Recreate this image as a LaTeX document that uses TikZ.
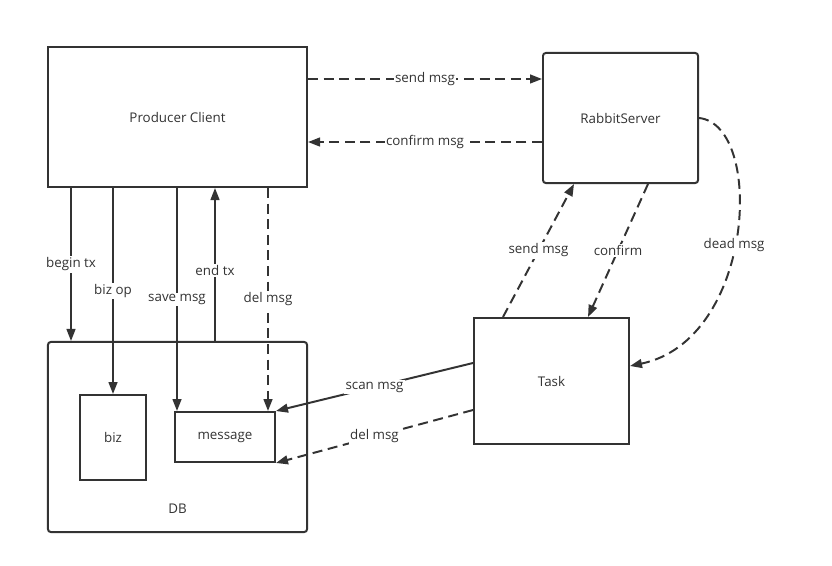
\documentclass[tikz,border=0pt]{standalone}
\usepackage{fontspec}
\setmainfont{Open Sans}
\usepackage{tikz}
\usetikzlibrary{arrows.meta}

\definecolor{linegray}{HTML}{333333}
\tikzset{
  box/.style={rectangle, draw=linegray, line width=1.4pt, fill=white, text centered},
  conn/.style={line width=1.4pt, draw=linegray, -{Triangle[length=3mm,width=2.2mm]}},
  plain/.style={line width=1.4pt, draw=linegray},
  dashline/.style={dash pattern=on 2.5mm off 1.4mm},
  lbl/.style={fill=white, inner sep=1pt, text=linegray}
}

\begin{document}
\begin{tikzpicture}[x=0.025cm, y=-0.025cm, font=\fontsize{9.5}{11}\selectfont, text=linegray]
\useasboundingbox (0,0) rectangle (832,565);

\node [box, minimum width=6.475cm, minimum height=3.5cm] (producer) at (177.5,117) {Producer Client};
\node [box, rounded corners=2pt, minimum width=3.875cm, minimum height=3.25cm] (rabbit) at (620.5,118) {RabbitServer};
\node [box, rounded corners=2pt, minimum width=6.475cm, minimum height=4.75cm, label={[anchor=center, yshift=0.6cm]south:DB}] (db) at (177.5,437) {};
\node [box, minimum width=1.65cm, minimum height=2.125cm] (biz) at (113,437.5) {biz};
\node [box, minimum width=2.5cm, minimum height=1.25cm] (message) at (225,437) {message};
\node [box, minimum width=3.875cm, minimum height=3.15cm] (task) at (551.5,381) {Task};

% producer <-> rabbit
\draw [conn, dashline] ([yshift=0.95cm]producer.east) -- ([yshift=0.95cm]producer.east -| rabbit.west) node [pos=.5, lbl] {send msg};
\draw [conn, dashline] ([yshift=-0.6cm]rabbit.west) -- ([yshift=-0.6cm]rabbit.west -| producer.east) node [pos=.5, lbl] {confirm msg};

% producer <-> db
\draw [conn] (producer.south -| 71,0) -- (db.north -| 71,0) node [pos=.5, lbl] {begin tx};
\draw [conn] (producer.south -| biz.north) -- (biz.north) node [pos=.5, lbl] {biz op};
\draw [conn] (producer.south -| 177,0) -- (message.north -| 177,0) node [pos=.5, lbl] {save msg};
\draw [conn] (db.north -| 215,0) -- (producer.south -| 215,0) node [pos=.46, lbl] {end tx};
\draw [conn, dashline] (producer.south -| 268,0) -- (message.north -| 268,0) node [pos=.5, lbl] {del msg};

% task <-> message
\draw [conn] ([yshift=0.45cm]task.west) -- (message.north east) node [pos=.5, lbl] {scan msg};
\draw [conn, dashline] ([yshift=-0.725cm]task.west) -- (message.south east) node [pos=.5, lbl] {del msg};

% task <-> rabbit
\draw [conn, dashline] ([xshift=-1.2125cm]task.north) -- ([xshift=-1.1625cm]rabbit.south) node [pos=.5, lbl] {send msg};
\draw [conn, dashline] ([xshift=0.6875cm]rabbit.south) -- ([xshift=0.9125cm]task.north) node [pos=.5, lbl] {confirm};
\draw [conn, dashline] (rabbit.east) .. controls (765,125) and (755,340) .. ([yshift=0.375cm]task.east) node [pos=.53, lbl] {dead msg};

\end{tikzpicture}
\end{document}
